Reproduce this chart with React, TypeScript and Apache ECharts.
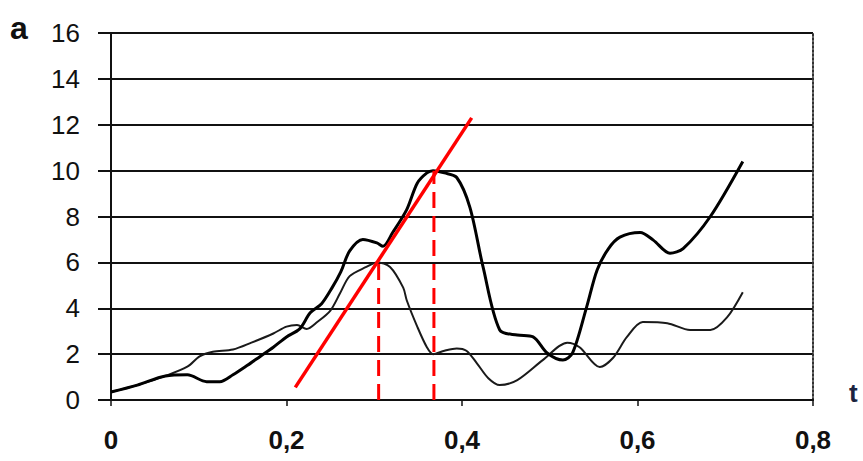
import React, { useEffect, useRef } from "react";
import * as echarts from "echarts";

// Thick curve (peaks near 7 and 10)
const thickT = [0, 0.03, 0.062, 0.087, 0.109, 0.124, 0.139, 0.155, 0.17, 0.185, 0.2, 0.215, 0.227, 0.24, 0.252, 0.262, 0.272, 0.287, 0.303, 0.31, 0.321, 0.337, 0.349, 0.36, 0.367, 0.38, 0.394, 0.409, 0.424, 0.443, 0.463, 0.481, 0.497, 0.515, 0.526, 0.542, 0.554, 0.567, 0.58, 0.603, 0.618, 0.637, 0.652, 0.683, 0.72];
const thickY = [0.35, 0.65, 1.05, 1.1, 0.8, 0.8, 1.1, 1.5, 1.9, 2.3, 2.75, 3.1, 3.8, 4.2, 4.9, 5.6, 6.5, 7.0, 6.85, 6.7, 7.3, 8.3, 9.45, 9.9, 10.0, 9.9, 9.7, 8.4, 5.8, 3.05, 2.83, 2.75, 2.05, 1.74, 2.05, 4.05, 5.67, 6.6, 7.1, 7.3, 6.97, 6.4, 6.6, 8.0, 10.4];

// Thin curve (peak near 6)
const thinT = [0, 0.03, 0.062, 0.087, 0.101, 0.116, 0.139, 0.16, 0.185, 0.2, 0.212, 0.223, 0.235, 0.25, 0.261, 0.272, 0.291, 0.303, 0.318, 0.333, 0.337, 0.349, 0.36, 0.367, 0.38, 0.394, 0.405, 0.417, 0.43, 0.443, 0.463, 0.492, 0.52, 0.534, 0.557, 0.572, 0.588, 0.606, 0.634, 0.66, 0.683, 0.702, 0.72];
const thinY = [0.35, 0.65, 1.05, 1.45, 1.9, 2.1, 2.2, 2.5, 2.9, 3.2, 3.27, 3.1, 3.4, 3.9, 4.65, 5.4, 5.8, 6.0, 5.8, 4.9, 4.35, 3.2, 2.3, 2.0, 2.15, 2.25, 2.15, 1.6, 0.95, 0.65, 0.87, 1.74, 2.5, 2.3, 1.44, 1.83, 2.75, 3.4, 3.35, 3.05, 3.05, 3.6, 4.7];

// Red tangent line and dashed markers
const tangentT = [0.21, 0.411];
const tangentY = [0.55, 12.3];
const marker1T = [0.305, 0.305];
const marker1Y = [0, 6];
const marker2T = [0.368, 0.368];
const marker2Y = [0, 10];

const yTicks = [0, 2, 4, 6, 8, 10, 12, 14, 16];
const xTickLabels = ["0", "0,2", "0,4", "0,6", "0,8"];

const zip = (a: number[], b: number[]) => a.map((v, i) => [v, b[i]]);

export default function App() {
  const ref = useRef<HTMLDivElement>(null);
  useEffect(() => {
    document.body.style.margin = "0";
    if (!ref.current) return;
    const chart = echarts.init(ref.current, null, { renderer: "svg" });
    const font = "Liberation Sans, Arial, sans-serif";
    chart.setOption({
      animation: false,
      backgroundColor: "#ffffff",
      grid: { left: 111, right: 50, top: 33, bottom: 61, containLabel: false },
      xAxis: {
        type: "value",
        min: 0,
        max: 0.8,
        interval: 0.2,
        axisLine: { show: true, lineStyle: { color: "#111", width: 2 } },
        axisTick: { show: true, length: 6, lineStyle: { color: "#111", width: 1.5 } },
        splitLine: { show: false },
        axisLabel: {
          margin: 27,
          fontSize: 26,
          fontWeight: "bold",
          fontFamily: font,
          color: "#111",
          formatter: (v: number) => xTickLabels[Math.round(v / 0.2)] ?? "",
        },
      },
      yAxis: [
        {
          type: "value",
          min: 0,
          max: 16,
          interval: 2,
          axisLine: { show: true, lineStyle: { color: "#111", width: 2 } },
          axisTick: { show: true, length: 13, lineStyle: { color: "#111", width: 2 } },
          splitLine: { show: true, lineStyle: { color: "#111", width: 2 } },
          axisLabel: {
            margin: 31,
            fontSize: 26,
            fontFamily: font,
            color: "#111",
            formatter: (v: number) => (yTicks.includes(v) ? String(v) : ""),
          },
        },
        {
          type: "value",
          min: 0,
          max: 16,
          interval: 2,
          position: "right",
          axisLine: { show: true, lineStyle: { color: "#333", width: 2, type: "dotted" } },
          axisTick: { show: false },
          splitLine: { show: false },
          axisLabel: { show: false },
        },
      ],
      series: [
        {
          type: "line",
          data: zip(thinT, thinY),
          smooth: 0.3,
          showSymbol: false,
          lineStyle: { color: "#1a1a1a", width: 2 },
        },
        {
          type: "line",
          data: zip(thickT, thickY),
          smooth: 0.3,
          showSymbol: false,
          lineStyle: { color: "#000", width: 3 },
        },
        {
          type: "line",
          data: zip(marker1T, marker1Y),
          showSymbol: false,
          lineStyle: { color: "#ff0000", width: 3, type: [16, 8] },
        },
        {
          type: "line",
          data: zip(marker2T, marker2Y),
          showSymbol: false,
          lineStyle: { color: "#ff0000", width: 3, type: [16, 8] },
        },
        {
          type: "line",
          data: zip(tangentT, tangentY),
          showSymbol: false,
          lineStyle: { color: "#ff0000", width: 3.5 },
        },
      ],
      graphic: [
        {
          type: "text",
          left: 10,
          top: 12,
          style: { text: "a", font: `bold 32px ${font}`, fill: "#111" },
        },
        {
          type: "text",
          left: 849,
          top: 380,
          style: { text: "t", font: `bold 26px ${font}`, fill: "#1b2340" },
        },
      ],
    });
    return () => chart.dispose();
  }, []);
  return <div ref={ref} style={{ width: 863, height: 461 }} />;
}
